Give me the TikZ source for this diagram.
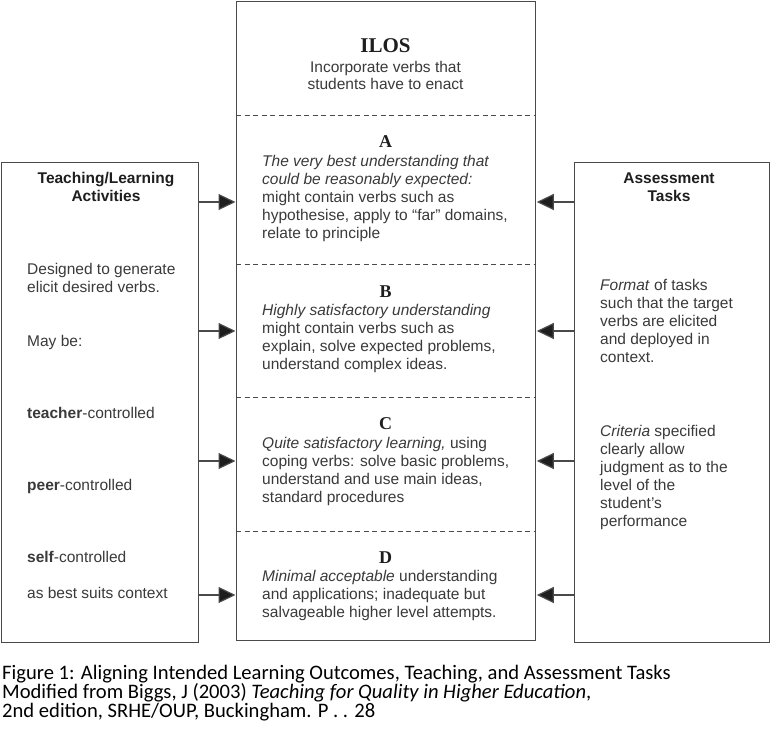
\documentclass[tikz,border=0pt]{standalone}
\usepackage{fontspec}
\setmainfont{Liberation Sans}
\newfontfamily\hdfont{Liberation Serif}
\newfontfamily\capfont{Carlito}
\usetikzlibrary{arrows.meta}
\definecolor{txt}{HTML}{3A3A3A}
\definecolor{ln}{HTML}{4A4A4A}
\definecolor{hd}{HTML}{1E1E1E}
\newcommand\fr{\rule{0pt}{13pt}}
\newcommand\frc{\rule{0pt}{15pt}}
\begin{document}
\begin{tikzpicture}[x=1pt,y=-1pt,
  panel/.style={draw=ln, line width=1.3pt, rectangle, inner sep=0, anchor=north west},
  section/.style={rectangle, inner sep=0, anchor=north west, minimum width=299pt},
  divider/.style={draw=ln, line width=1pt, dash pattern=on 5pt off 3.5pt},
  body/.style={font=\fontsize{15.5}{18}\selectfont, text=txt, align=left, inner sep=0, anchor=north west},
  headsans/.style={font=\fontsize{15.5}{18}\selectfont\bfseries, text=hd, align=center, inner sep=0, anchor=north},
  letter/.style={font=\hdfont\fontsize{18}{20}\selectfont\bfseries, text=hd, inner sep=0, anchor=base},
  conn/.style={draw=ln, line width=1.2pt, -{Triangle[length=17pt,width=16pt,fill=hd]}, shorten >=0.5pt},
  caption/.style={font=\capfont\fontsize{20.6}{19.2}\selectfont, text=black, align=left, inner sep=0, anchor=north west}]
\useasboundingbox (0,0) rectangle (773,740);
\fill[white] (0,0) rectangle (773,740);

% boxes
\node[panel, minimum width=197pt, minimum height=480pt] (tla) at (1,162) {};
\node[panel, minimum width=195pt, minimum height=480pt] (at) at (574,162) {};
\node[panel, minimum width=299pt, minimum height=639pt] (ilo) at (236,1) {};

% sections of the centre box
\node[section, minimum height=114pt] (secI) at (236,1) {};
\node[section, minimum height=149pt] (secA) at (236,115) {};
\node[section, minimum height=133pt] (secB) at (236,264) {};
\node[section, minimum height=134pt] (secC) at (236,397) {};
\node[section, minimum height=109pt] (secD) at (236,531) {};
\draw[divider] (secA.north west) -- (secA.north east);
\draw[divider] (secB.north west) -- (secB.north east);
\draw[divider] (secC.north west) -- (secC.north east);
\draw[divider] (secD.north west) -- (secD.north east);

% centre texts
\node[font=\hdfont\fontsize{21}{24}\selectfont\bfseries, text=hd, inner sep=0, anchor=base] (tI) at (385.5,52.5) {ILOS};
\node[font=\fontsize{15.5}{17}\selectfont, text=txt, align=center, inner sep=0, anchor=north] (tI2) at (385.5,59) {\fr Incorporate verbs that\\students have to enact};

\node[letter] (lA) at (385.5,147) {A};
\node[body] (tA) at (262,153.5) {\fr\textit{The very best understanding that}\\\textit{could be reasonably expected:}\\might contain verbs such as\\hypothesise, apply to “far” domains,\\relate to principle};

\node[letter] (lB) at (385.5,297) {B};
\node[body] (tB) at (262,302) {\fr\textit{Highly satisfactory understanding}\\might contain verbs such as\\explain, solve expected problems,\\understand complex ideas.};

\node[letter] (lC) at (385.5,429) {C};
\node[body] (tC) at (262,435) {\fr\textit{Quite satisfactory learning,} using\\coping verbs: solve basic problems,\\understand and use main ideas,\\standard procedures};

\node[letter] (lD) at (385.5,563) {D};
\node[body] (tD) at (262,568) {\fr\textit{Minimal acceptable} understanding\\and applications; inadequate but\\salvageable higher level attempts.};

% left texts
\node[headsans] (hL) at (106,170) {\fr Teaching/Learning\\Activities};
\node[body] (l1) at (27,261) {\fr Designed to generate\\elicit desired verbs.};
\node[body] (l2) at (27,333) {\fr May be:};
\node[body] (l3) at (27,405) {\fr\textbf{teacher}-controlled};
\node[body] (l4) at (27,477) {\fr\textbf{peer}-controlled};
\node[body] (l5) at (27,549) {\fr\textbf{self}-controlled};
\node[body] (l6) at (27,585) {\fr as best suits context};

% right texts
\node[headsans] (hR) at (669,170) {\fr Assessment\\Tasks};
\node[body] (r1) at (600,277) {\fr\textit{Format} of tasks\\such that the target\\verbs are elicited\\and deployed in\\context.};
\node[body] (r2) at (600,423) {\fr\textit{Criteria} specified\\clearly allow\\judgment as to the\\level of the\\student’s\\performance};

% connectors
\coordinate (y1) at (0,202);
\coordinate (y2) at (0,331);
\coordinate (y3) at (0,461);
\coordinate (y4) at (0,595);
\foreach \k in {1,2,3,4}{
  \draw[conn] (tla.east |- y\k) -- (ilo.west |- y\k);
  \draw[conn] (at.west |- y\k) -- (ilo.east |- y\k);
}

% caption
\node[caption] (cap) at (2,664) {\frc Figure 1: Aligning Intended Learning Outcomes, Teaching, and Assessment Tasks\\Modified from Biggs, J (2003) \textit{Teaching for Quality in Higher Education},\\2nd edition, SRHE/OUP, Buckingham. P . . 28};
\end{tikzpicture}
\end{document}
